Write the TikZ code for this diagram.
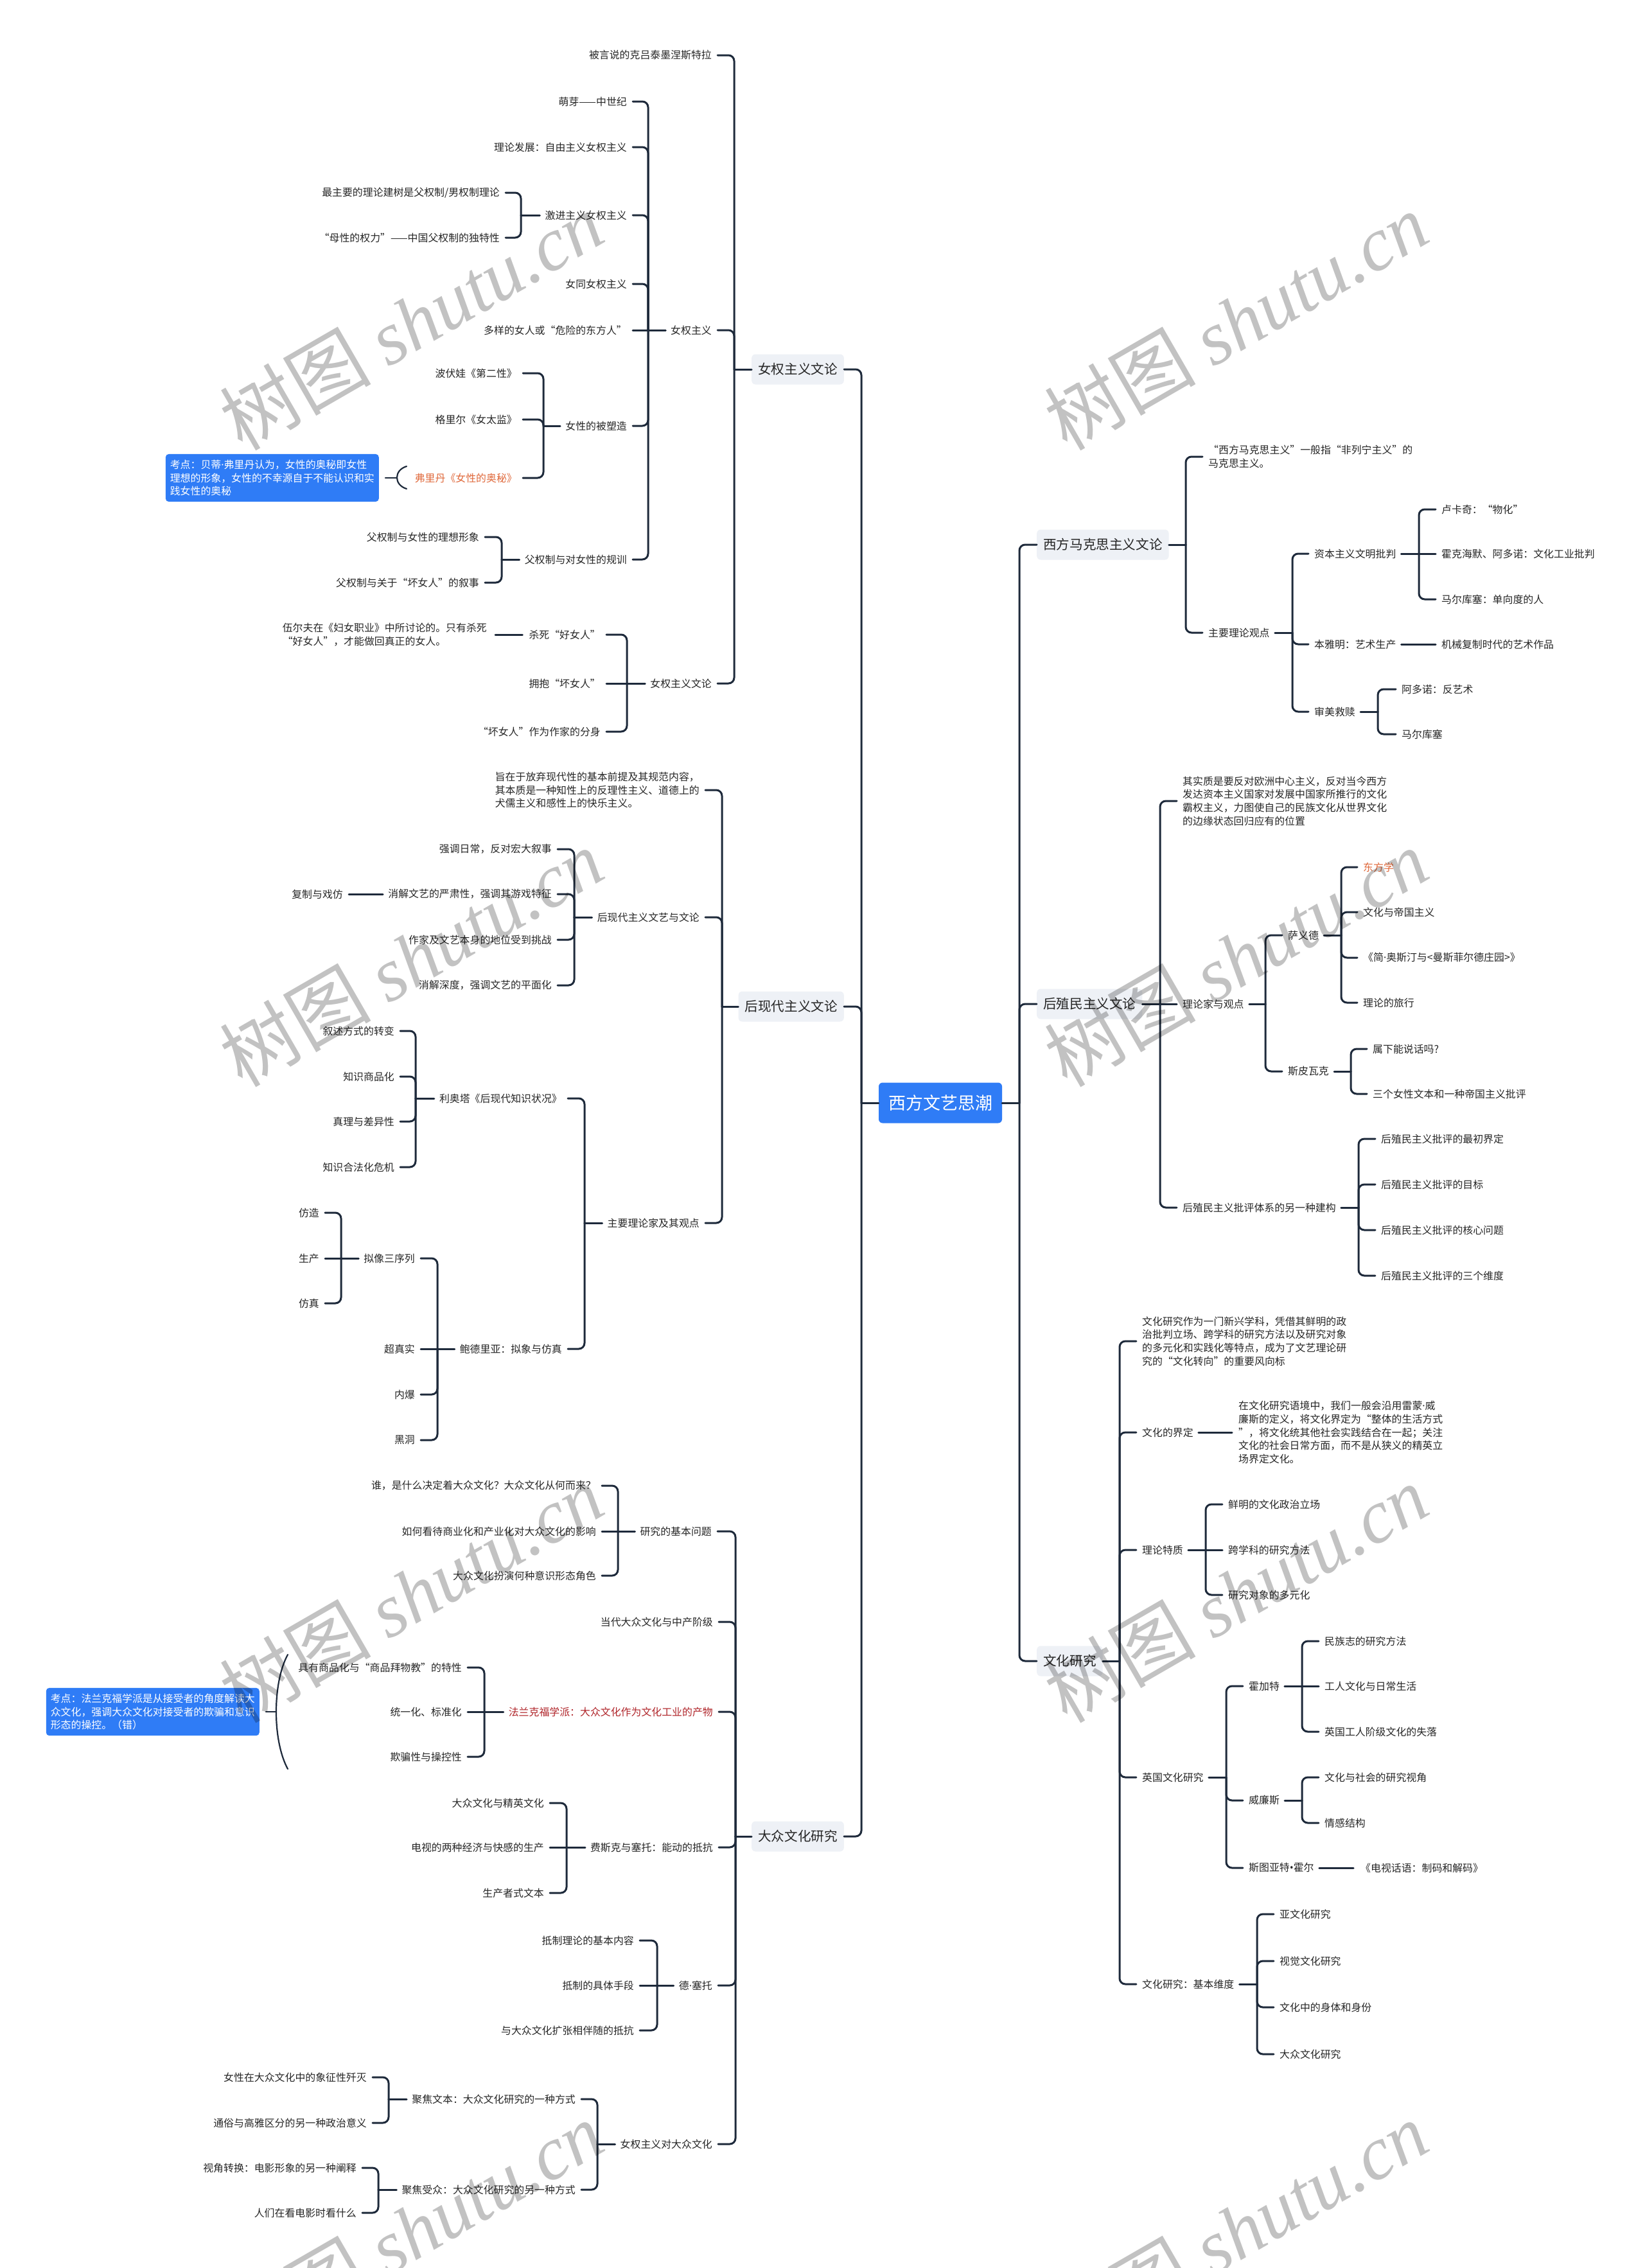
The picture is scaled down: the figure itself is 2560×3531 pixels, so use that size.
\documentclass[tikz,border=0pt]{standalone}
\usepackage{fontspec}
\newfontfamily\cjk{Noto Sans CJK SC}
\newfontfamily\latf{Noto Sans}
\newfontfamily\wmlat{Liberation Serif}
\newcommand\md{{\latf ·}}
\newcommand\bu{{\latf •}}
\usetikzlibrary{calc}
\definecolor{lineC}{HTML}{1E2A3B}
\definecolor{txtC}{HTML}{262626}
\definecolor{blueC}{HTML}{2F7CF6}
\definecolor{boxC}{HTML}{EEF1F6}
\definecolor{orangeC}{HTML}{E0683A}
\definecolor{redC}{HTML}{B0252A}
\tikzset{
 conn/.style={draw=lineC, line width=3pt, line cap=round},
 thinconn/.style={draw=lineC, line width=2.2pt, line cap=round},
 tx/.style={font=\cjk\fontsize{15.9}{20.7}\selectfont, text=txtC, inner sep=0pt, align=left},
 lt/.style={tx, anchor=east},
 rt/.style={tx, anchor=west},
 lvone/.style={font=\cjk\fontsize{20.6}{24}\selectfont, text=txtC, fill=boxC, rounded corners=6pt, inner xsep=10pt, inner ysep=0pt, minimum height=47pt},
 rootbox/.style={font=\cjk\fontsize{27}{30}\selectfont, text=white, fill=blueC, rounded corners=6pt, inner sep=0pt, minimum width=192pt, minimum height=63pt},
 callout/.style={fill=blueC, rounded corners=5pt, text=white, font=\cjk\fontsize{15.9}{20.7}\selectfont, align=left, inner xsep=7pt, inner ysep=9pt, anchor=east},
 wmark/.style={text=black, text opacity=0.24, rotate=30, inner sep=0pt, font=\cjk\fontsize{118}{128}\selectfont}
}
% left bracket: parent, parent gap, trunk x, child gap, curved children
\newcommand\brL[5]{%
 \coordinate (#1T) at (#3,0);
 \draw[conn] ([xshift=-#2pt]#1.west) -- (#1.west -| #1T);
 \foreach \ch in {#5}{\draw[conn,rounded corners=9pt] (#1.west -| #1T) |- ([xshift=#4pt]\ch.east);}
}
\newcommand\stL[4]{\draw[conn] ([xshift=-#2pt]#1.west) -- ([xshift=#4pt]#3.east);}
\newcommand\brR[5]{%
 \coordinate (#1T) at (#3,0);
 \draw[conn] ([xshift=#2pt]#1.east) -- (#1.east -| #1T);
 \foreach \ch in {#5}{\draw[conn,rounded corners=9pt] (#1.east -| #1T) |- ([xshift=-#4pt]\ch.west);}
}
\newcommand\stR[4]{\draw[conn] ([xshift=#2pt]#1.east) -- ([xshift=-#4pt]#3.west);}

\begin{document}
\begin{tikzpicture}[x=1pt,y=-1pt]
\fill[white] (0,0) rectangle (2560,3531);
\useasboundingbox (0,0) rectangle (2560,3531);

% root
\node[rootbox] (root) at (1464,1717) {西方文艺思潮};

% level one
\node[lvone, anchor=east] (L1a) at (1314,575) {女权主义文论};
\node[lvone, anchor=east] (L1b) at (1314,1567) {后现代主义文论};
\node[lvone, anchor=east] (L1c) at (1314,2859) {大众文化研究};
\node[lvone, anchor=west] (R1a) at (1614,848) {西方马克思主义文论};
\node[lvone, anchor=west] (R1b) at (1614,1563) {后殖民主义文论};
\node[lvone, anchor=west] (R1c) at (1614,2586) {文化研究};

% ---------- 女权主义文论
\node[lt] (a1) at (1108,86) {被言说的克吕泰墨涅斯特拉};
\node[lt] (a2) at (1108,514) {女权主义};
\node[lt] (a3) at (1108,1064) {女权主义文论};
\node[lt] (a21) at (976,158) {萌芽——中世纪};
\node[lt] (a22) at (976,229) {理论发展：自由主义女权主义};
\node[lt] (a23) at (976,335) {激进主义女权主义};
\node[lt] (a231) at (778,300) {最主要的理论建树是父权制/男权制理论};
\node[lt] (a232) at (778,370) {“母性的权力”——中国父权制的独特性};
\node[lt] (a24) at (976,442) {女同女权主义};
\node[lt] (a25) at (976,514) {多样的女人或“危险的东方人”};
\node[lt] (a26) at (976,663) {女性的被塑造};
\node[lt] (a261) at (805,581) {波伏娃《第二性》};
\node[lt] (a262) at (805,653) {格里尔《女太监》};
\node[lt, text=orangeC] (a263) at (805,744) {弗里丹《女性的奥秘》};
\node[callout] (cb1) at (590,744) {考点：贝蒂\md 弗里丹认为，女性的奥秘即女性\\理想的形象，女性的不幸源自于不能认识和实\\践女性的奥秘};
\node[lt] (a27) at (976,871) {父权制与对女性的规训};
\node[lt] (a271) at (746,836) {父权制与女性的理想形象};
\node[lt] (a272) at (746,907) {父权制与关于“坏女人”的叙事};
\node[lt] (a31) at (935,988) {杀死“好女人”};
\node[lt] (a311) at (758,988) {伍尔夫在《妇女职业》中所讨论的。只有杀死\\“好女人”，才能做回真正的女人。};
\node[lt] (a32) at (935,1064) {拥抱“坏女人”};
\node[lt] (a33) at (935,1139) {“坏女人”作为作家的分身};

% ---------- 后现代主义文论
\node[lt] (b1) at (1089,1230) {旨在于放弃现代性的基本前提及其规范内容，\\其本质是一种知性上的反理性主义、道德上的\\犬儒主义和感性上的快乐主义。};
\node[lt] (b2) at (1089,1428) {后现代主义文艺与文论};
\node[lt] (b3) at (1089,1904) {主要理论家及其观点};
\node[lt] (b21) at (859,1322) {强调日常，反对宏大叙事};
\node[lt] (b22) at (859,1392) {消解文艺的严肃性，强调其游戏特征};
\node[lt] (b221) at (534,1392) {复制与戏仿};
\node[lt] (b23) at (859,1463) {作家及文艺本身的地位受到挑战};
\node[lt] (b24) at (859,1534) {消解深度，强调文艺的平面化};
\node[lt] (b31) at (875,1710) {利奥塔《后现代知识状况》};
\node[lt] (b311) at (614,1605) {叙述方式的转变};
\node[lt] (b312) at (614,1676) {知识商品化};
\node[lt] (b313) at (614,1746) {真理与差异性};
\node[lt] (b314) at (614,1817) {知识合法化危机};
\node[lt] (b32) at (875,2100) {鲍德里亚：拟象与仿真};
\node[lt] (b321) at (646,1959) {拟像三序列};
\node[lt] (b3211) at (497,1888) {仿造};
\node[lt] (b3212) at (497,1959) {生产};
\node[lt] (b3213) at (497,2029) {仿真};
\node[lt] (b322) at (646,2100) {超真实};
\node[lt] (b323) at (646,2171) {内爆};
\node[lt] (b324) at (646,2242) {黑洞};

% ---------- 大众文化研究
\node[lt] (c1) at (1108,2384) {研究的基本问题};
\node[lt] (c11) at (928,2313) {谁，是什么决定着大众文化？大众文化从何而来？};
\node[lt] (c12) at (928,2384) {如何看待商业化和产业化对大众文化的影响};
\node[lt] (c13) at (928,2453) {大众文化扮演何种意识形态角色};
\node[lt] (c2) at (1110,2525) {当代大众文化与中产阶级};
\node[lt, text=redC] (c3) at (1110,2665) {法兰克福学派：大众文化作为文化工业的产物};
\node[lt] (c31) at (719,2596) {具有商品化与“商品拜物教”的特性};
\node[lt] (c32) at (719,2665) {统一化、标准化};
\node[lt] (c33) at (719,2735) {欺骗性与操控性};
\node[callout] (cb2) at (404,2665) {考点：法兰克福学派是从接受者的角度解读大\\众文化，强调大众文化对接受者的欺骗和意识\\形态的操控。（错）};
\node[lt] (c4) at (1110,2876) {费斯克与塞托：能动的抵抗};
\node[lt] (c41) at (847,2807) {大众文化与精英文化};
\node[lt] (c42) at (847,2876) {电视的两种经济与快感的生产};
\node[lt] (c43) at (847,2947) {生产者式文本};
\node[lt] (c5) at (1109,3091) {德\md 塞托};
\node[lt] (c51) at (987,3021) {抵制理论的基本内容};
\node[lt] (c52) at (987,3091) {抵制的具体手段};
\node[lt] (c53) at (987,3161) {与大众文化扩张相伴随的抵抗};
\node[lt] (c6) at (1109,3338) {女权主义对大众文化};
\node[lt] (c61) at (896,3268) {聚焦文本：大众文化研究的一种方式};
\node[lt] (c611) at (571,3234) {女性在大众文化中的象征性歼灭};
\node[lt] (c612) at (571,3305) {通俗与高雅区分的另一种政治意义};
\node[lt] (c62) at (896,3409) {聚焦受众：大众文化研究的另一种方式};
\node[lt] (c621) at (555,3375) {视角转换：电影形象的另一种阐释};
\node[lt] (c622) at (555,3445) {人们在看电影时看什么};

% ---------- 西方马克思主义文论
\node[rt] (r1) at (1881,711) {“西方马克思主义”一般指“非列宁主义”的\\马克思主义。};
\node[rt] (r2) at (1881,985) {主要理论观点};
\node[rt] (r21) at (2046,862) {资本主义文明批判};
\node[rt] (r211) at (2244,793) {卢卡奇：“物化”};
\node[rt] (r212) at (2244,862) {霍克海默、阿多诺：文化工业批判};
\node[rt] (r213) at (2244,933) {马尔库塞：单向度的人};
\node[rt] (r22) at (2046,1003) {本雅明：艺术生产};
\node[rt] (r221) at (2244,1003) {机械复制时代的艺术作品};
\node[rt] (r23) at (2046,1108) {审美救赎};
\node[rt] (r231) at (2182,1073) {阿多诺：反艺术};
\node[rt] (r232) at (2182,1143) {马尔库塞};

% ---------- 后殖民主义文论
\node[rt] (s1) at (1841,1247) {其实质是要反对欧洲中心主义，反对当今西方\\发达资本主义国家对发展中国家所推行的文化\\霸权主义，力图使自己的民族文化从世界文化\\的边缘状态回归应有的位置};
\node[rt] (s2) at (1841,1563) {理论家与观点};
\node[rt] (s21) at (2005,1456) {萨义德};
\node[rt, text=orangeC] (s211) at (2122,1350) {东方学};
\node[rt] (s212) at (2122,1420) {文化与帝国主义};
\node[rt] (s213) at (2122,1491) {《简\md 奥斯汀与<曼斯菲尔德庄园>》};
\node[rt] (s214) at (2122,1561) {理论的旅行};
\node[rt] (s22) at (2005,1668) {斯皮瓦克};
\node[rt] (s221) at (2137,1633) {属下能说话吗?};
\node[rt] (s222) at (2137,1703) {三个女性文本和一种帝国主义批评};
\node[rt] (s3) at (1841,1880) {后殖民主义批评体系的另一种建构};
\node[rt] (s31) at (2150,1773) {后殖民主义批评的最初界定};
\node[rt] (s32) at (2150,1844) {后殖民主义批评的目标};
\node[rt] (s33) at (2150,1915) {后殖民主义批评的核心问题};
\node[rt] (s34) at (2150,1986) {后殖民主义批评的三个维度};

% ---------- 文化研究
\node[rt] (t1) at (1778,2088) {文化研究作为一门新兴学科，凭借其鲜明的政\\治批判立场、跨学科的研究方法以及研究对象\\的多元化和实践化等特点，成为了文艺理论研\\究的“文化转向”的重要风向标};
\node[rt] (t2) at (1778,2230) {文化的界定};
\node[rt] (t21) at (1928,2230) {在文化研究语境中，我们一般会沿用雷蒙\md 威\\廉斯的定义，将文化界定为“整体的生活方式\\”，将文化统其他社会实践结合在一起；关注\\文化的社会日常方面，而不是从狭义的精英立\\场界定文化。};
\node[rt] (t3) at (1778,2413) {理论特质};
\node[rt] (t31) at (1912,2342) {鲜明的文化政治立场};
\node[rt] (t32) at (1912,2413) {跨学科的研究方法};
\node[rt] (t33) at (1912,2483) {研究对象的多元化};
\node[rt] (t4) at (1778,2767) {英国文化研究};
\node[rt] (t41) at (1944,2625) {霍加特};
\node[rt] (t411) at (2062,2555) {民族志的研究方法};
\node[rt] (t412) at (2062,2625) {工人文化与日常生活};
\node[rt] (t413) at (2062,2696) {英国工人阶级文化的失落};
\node[rt] (t42) at (1944,2803) {威廉斯};
\node[rt] (t421) at (2062,2767) {文化与社会的研究视角};
\node[rt] (t422) at (2062,2838) {情感结构};
\node[rt] (t43) at (1944,2908) {斯图亚特\bu 霍尔};
\node[rt] (t431) at (2118,2908) {《电视话语：制码和解码》};
\node[rt] (t5) at (1778,3089) {文化研究：基本维度};
\node[rt] (t51) at (1992,2980) {亚文化研究};
\node[rt] (t52) at (1992,3053) {视觉文化研究};
\node[rt] (t53) at (1992,3125) {文化中的身体和身份};
\node[rt] (t54) at (1992,3198) {大众文化研究};

% ---------- connectors
\brL{root}{0}{1341}{0}{L1a,L1b,L1c}
\brR{root}{0}{1587}{0}{R1a,R1b,R1c}

\brL{L1a}{0}{1143}{9}{a1,a2,a3}
\brL{a2}{8}{1009}{9}{a21,a22,a23,a24,a26,a27}
\stL{a2}{8}{a25}{9}
\brL{a23}{8}{811}{9}{a231,a232}
\brL{a26}{8}{846}{9}{a261,a262,a263}
\brL{a27}{8}{781}{9}{a271,a272}
\brL{a3}{8}{976}{9}{a31,a33}
\stL{a3}{8}{a32}{9}
\stL{a31}{10}{a311}{13}

\brL{L1b}{0}{1124}{9}{b1,b2,b3}
\brL{b2}{8}{894}{9}{b21,b22,b23,b24}
\stL{b22}{8}{b221}{9}
\brL{b3}{8}{910}{9}{b31,b32}
\brL{b31}{8}{647}{9}{b311,b312,b313,b314}
\brL{b32}{8}{681}{9}{b321,b323,b324}
\stL{b32}{8}{b322}{9}
\brL{b321}{8}{531}{9}{b3211,b3213}
\stL{b321}{8}{b3212}{9}

\brL{L1c}{0}{1145}{9}{c1,c2,c3,c4,c5,c6}
\brL{c1}{8}{962}{9}{c11,c13}
\stL{c1}{8}{c12}{9}
\brL{c3}{8}{754}{9}{c31,c33}
\stL{c3}{8}{c32}{9}
\brL{c4}{8}{882}{9}{c41,c43}
\stL{c4}{8}{c42}{9}
\brL{c5}{8}{1023}{9}{c51,c53}
\stL{c5}{8}{c52}{9}
\brL{c6}{8}{930}{9}{c61,c62}
\brL{c61}{8}{605}{9}{c611,c612}
\brL{c62}{8}{589}{9}{c621,c622}

\brR{R1a}{0}{1846}{9}{r1,r2}
\brR{r2}{8}{2012}{9}{r21,r22,r23}
\brR{r21}{8}{2209}{9}{r211,r213}
\stR{r21}{8}{r212}{9}
\stR{r22}{8}{r221}{9}
\brR{r23}{8}{2145}{9}{r231,r232}

\brR{R1b}{0}{1806}{9}{s1,s3}
\stR{R1b}{0}{s2}{9}
\brR{s2}{8}{1970}{9}{s21,s22}
\brR{s21}{8}{2088}{9}{s211,s212,s213,s214}
\brR{s22}{8}{2103}{9}{s221,s222}
\brR{s3}{8}{2115}{9}{s31,s32,s33,s34}

\brR{R1c}{0}{1743}{9}{t1,t2,t3,t4,t5}
\stR{t2}{8}{t21}{10}
\brR{t3}{8}{1877}{9}{t31,t33}
\stR{t3}{8}{t32}{9}
\brR{t4}{8}{1909}{9}{t41,t42,t43}
\brR{t41}{8}{2027}{9}{t411,t413}
\stR{t41}{8}{t412}{9}
\brR{t42}{8}{2027}{9}{t421,t422}
\stR{t43}{8}{t431}{11}
\brR{t5}{8}{1957}{9}{t51,t52,t53,t54}

% callout braces
\coordinate (k1m) at (618,744);
\coordinate (k1t) at (633,726);
\coordinate (k1b) at (633,761);
\draw[thinconn] ([xshift=10pt]cb1.east) -- (k1m);
\draw[thinconn] (k1t) .. controls (613,732) and (613,755) .. (k1b);
\coordinate (k2m) at (430,2665);
\coordinate (k2t) at (448,2576);
\coordinate (k2b) at (448,2754);
\draw[thinconn] ([xshift=10pt]cb2.east) -- (k2m);
\draw[thinconn] (k2t) .. controls (424,2620) and (424,2710) .. (k2b);

% watermarks
\foreach \wx/\wy [count=\wi] in {640/500,1924/500,640/1491,1924/1491,640/2481,1924/2481,640/3472,1924/3472}{
 \node[wmark] (wm\wi) at (\wx,\wy) {树图 {\wmlat\itshape shutu.cn}};
}
\end{tikzpicture}
\end{document}
